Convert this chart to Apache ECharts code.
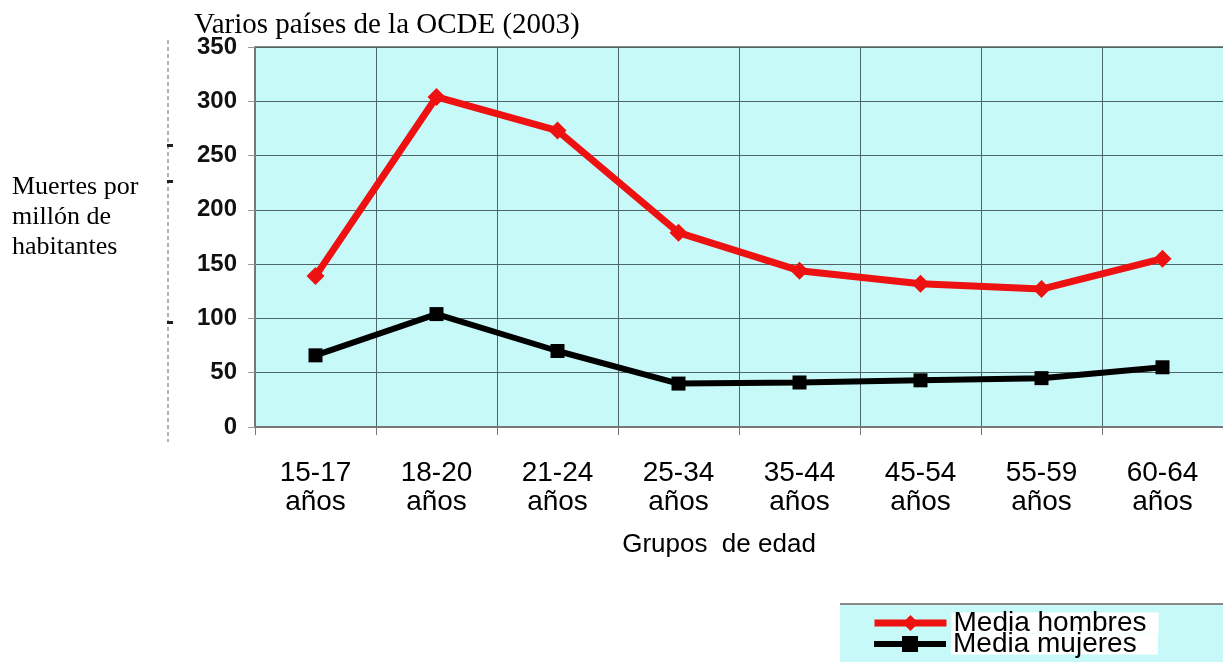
<!DOCTYPE html>
<html>
<head>
<meta charset="utf-8">
<script src="https://cdn.jsdelivr.net/npm/echarts@6/dist/echarts.min.js"></script>
<style>
  html, body { margin: 0; padding: 0; background: #fff; }
  #chart { width: 1223px; height: 662px; }
</style>
</head>
<body>
<div id="chart"></div>
<script>
const categories = ['15-17\naños', '18-20\naños', '21-24\naños', '25-34\naños', '35-44\naños', '45-54\naños', '55-59\naños', '60-64\naños'];
const hombres = [139, 304, 273, 179, 144, 132, 127, 155];
const mujeres = [66, 104, 70, 40, 41, 43, 45, 55];
const yTicks = [0, 350, 50];

const chart = echarts.init(document.getElementById('chart'));

// one legend per row so they stack tightly inside the small box
function legendRow(name, top, width) {
  return {
    left: 871,
    top: top,
    itemWidth: 72,
    itemHeight: 20,
    padding: 0,
    textStyle: {
      fontFamily: 'Liberation Sans',
      fontSize: 28,
      lineHeight: 21,
      color: '#000',
      backgroundColor: '#fff',
      width: 205,
      padding: [0, 0, 0, 2]
    },
    data: [{ name: name, lineStyle: { width: width } }]
  };
}

const option = {
  animation: false,
  title: {
    text: 'Varios países de la OCDE (2003)',
    left: 194,
    top: 11,
    padding: 0,
    textStyle: { fontFamily: 'Liberation Serif', fontSize: 29, fontWeight: 'normal', color: '#000' }
  },
  grid: { left: 255, top: 47, right: 0, bottom: 235, show: true, backgroundColor: '#c8f9f9', borderWidth: 0 },
  legend: [
    legendRow('Media hombres', 609, 7),
    legendRow('Media mujeres', 630, 6)
  ],
  xAxis: {
    type: 'category',
    data: categories,
    name: 'Grupos  de edad',
    nameLocation: 'middle',
    nameGap: 105,
    nameTextStyle: { fontFamily: 'Liberation Sans', fontSize: 26, color: '#000', padding: [0, 40, 0, 0] },
    axisLine: { lineStyle: { color: '#777', width: 2 } },
    axisTick: { show: true, length: 8, lineStyle: { color: '#777' } },
    axisLabel: { margin: 32, fontFamily: 'Liberation Sans', fontSize: 28, lineHeight: 29, color: '#000' },
    splitLine: { show: true, lineStyle: { color: '#4e6666', width: 1 } }
  },
  yAxis: {
    type: 'value',
    min: yTicks[0],
    max: yTicks[1],
    interval: yTicks[2],
    axisLine: { show: true, lineStyle: { color: '#777', width: 2 } },
    axisTick: { show: true, length: 7, lineStyle: { color: '#999' } },
    axisLabel: { margin: 18, fontFamily: 'Liberation Sans', fontSize: 24, fontWeight: 'bold', color: '#111' },
    splitLine: { show: true, lineStyle: { color: '#4e6666', width: 1 } }
  },
  series: [
    {
      name: 'Media hombres',
      type: 'line',
      data: hombres,
      symbol: 'diamond',
      symbolSize: 18,
      color: '#ee1111',
      lineStyle: { width: 7, color: '#ee1111' },
      itemStyle: { color: '#ee1111' },
      z: 3
    },
    {
      name: 'Media mujeres',
      type: 'line',
      data: mujeres,
      symbol: 'rect',
      symbolSize: 14,
      color: '#000',
      lineStyle: { width: 6, color: '#000' },
      itemStyle: { color: '#000' },
      z: 4
    }
  ],
  graphic: [
    { type: 'rect', left: 840, top: 604, z: -10, shape: { width: 383, height: 58 }, style: { fill: '#c8f9f9' } },
    { type: 'line', z: -9, shape: { x1: 840, y1: 604, x2: 1223, y2: 604 }, style: { stroke: '#888', lineWidth: 2 } },
    { type: 'line', shape: { x1: 168, y1: 40, x2: 168, y2: 442 }, style: { stroke: '#666', lineWidth: 1, lineDash: [4, 3] } },
    { type: 'line', shape: { x1: 255, y1: 47, x2: 1223, y2: 47 }, style: { stroke: '#888', lineWidth: 2 } },
    { type: 'rect', left: 167, top: 144, shape: { width: 6, height: 3 }, style: { fill: '#222' } },
    { type: 'rect', left: 167, top: 180, shape: { width: 6, height: 3 }, style: { fill: '#222' } },
    { type: 'rect', left: 167, top: 321, shape: { width: 6, height: 3 }, style: { fill: '#222' } },
    {
      type: 'text',
      left: 12,
      top: 172,
      style: {
        text: 'Muertes por\nmillón de\nhabitantes',
        fontFamily: 'Liberation Serif',
        fontSize: 26,
        lineHeight: 30,
        fill: '#000'
      }
    }
  ]
};

chart.setOption(option);
</script>
</body>
</html>
